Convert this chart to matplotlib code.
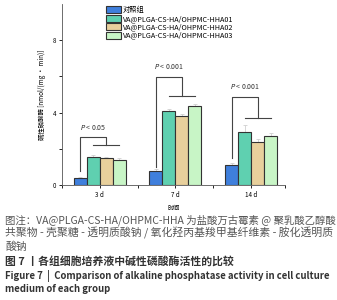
import numpy as np
import matplotlib.pyplot as plt

plt.rcParams['font.family'] = ['Noto Sans CJK SC', 'DejaVu Sans']

days = ["3 d", "7 d", "14 d"]
groups = ["对照组", "VA@PLGA-CS-HA/OHPMC-HHA01",
          "VA@PLGA-CS-HA/OHPMC-HHA02", "VA@PLGA-CS-HA/OHPMC-HHA03"]
values = [
    [0.4, 0.8, 1.1],
    [1.56, 4.1, 2.94],
    [1.5, 3.8, 2.4],
    [1.4, 4.35, 2.7],
]
errors = [
    [0.05, 0.08, 0.1],
    [0.08, 0.1, 0.4],
    [0.06, 0.15, 0.12],
    [0.08, 0.1, 0.15],
]
colors = ["#3f7fdc", "#5fd0b0", "#e8d09c", "#c8f5c6"]
p_text = ["$P$ < 0.05", "$P$ < 0.001", "$P$ < 0.001"]
# (left leg bottom, top, lower bar) per day
brackets = [(0.8, 2.64, 2.2), (1.0, 5.98, 4.9), (1.5, 4.88, 3.68)]

fig = plt.figure(figsize=(3.37, 3.0), dpi=100)
ax = fig.add_axes([0.184, 0.383, 0.662, 0.604])

x = np.arange(len(days))
w = 0.172
offs = (np.arange(4) - 1.5) * w
for i in range(4):
    ax.bar(x + offs[i], values[i], w, color=colors[i], edgecolor="#333333",
           linewidth=0.8, label=groups[i], zorder=2)
    ax.errorbar(x + offs[i], values[i], yerr=[np.zeros(3), errors[i]], fmt="none",
                ecolor="#d0d0d0", elinewidth=0.6, capsize=1.5, capthick=0.6, zorder=1)

lc = "#444444"
for j in range(3):
    lo, top, low2 = brackets[j]
    xl = x[j] + offs[0]
    xm = x[j] + offs[2]
    ax.plot([xl, xl, xm, xm], [lo, top, top, low2], color=lc, lw=0.8)
    ax.plot([x[j] + offs[1], x[j] + offs[3]], [low2, low2], color=lc, lw=0.8)
    ax.text((xl + xm) / 2, top + 0.3, p_text[j], ha="center", va="bottom",
            fontsize=5, color="#333333")

ax.set_xlim(-0.5, 2.45)
ax.set_ylim(0, 10)
ax.set_xticks(x)
ax.set_xticklabels(days, fontsize=4.5)
ax.set_xticks([-0.5, 0.5, 1.5, 2.45], minor=True)
ax.set_yticks([0, 4, 8])
ax.set_yticks([2, 6], minor=True)
ax.tick_params(axis="both", which="major", labelsize=4.5, length=2, width=0.6, pad=2)
ax.tick_params(axis="both", which="minor", length=2, width=0.6)
for s in ["top", "right"]:
    ax.spines[s].set_visible(False)
for s in ["left", "bottom"]:
    ax.spines[s].set_linewidth(0.6)
    ax.spines[s].set_color("#555555")
ax.set_xlabel("时间", fontsize=4.5, labelpad=4)
ax.set_ylabel("碱性磷酸酶 [nmol/(mg · min)]", fontsize=4.6, labelpad=5)

ax.legend(loc="upper left", bbox_to_anchor=(0.18, 1.01), fontsize=5.2, frameon=False,
          handlelength=2.0, handleheight=1.1, labelspacing=0.05, borderpad=0.1,
          handletextpad=0.3)

cap = "#555555"
fig.text(0.015, 1 - 220 / 300, "图注：VA@PLGA-CS-HA/OHPMC-HHA 为盐酸万古霉素 @ 聚乳酸乙醇酸",
         fontsize=7.5, color=cap, va="center")
fig.text(0.015, 1 - 233 / 300, "共聚物 - 壳聚糖 - 透明质酸钠 / 氧化羟丙基羧甲基纤维素 - 胺化透明质",
         fontsize=7.8, color=cap, va="center")
fig.text(0.015, 1 - 247 / 300, "酸钠", fontsize=7.8, color=cap, va="center")
fig.text(0.015, 1 - 261 / 300, "图 7 丨各组细胞培养液中碱性磷酸酶活性的比较",
         fontsize=7.8, color="#333333", va="center", weight="bold")
fig.text(0.015, 1 - 276 / 300,
         "Figure 7  |  Comparison of alkaline phosphatase activity in cell culture",
         fontsize=6.9, color="#333333", va="center", weight="bold")
fig.text(0.015, 1 - 289 / 300, "medium of each group",
         fontsize=6.9, color="#333333", va="center", weight="bold")

fig.savefig("out.png", dpi=100)
